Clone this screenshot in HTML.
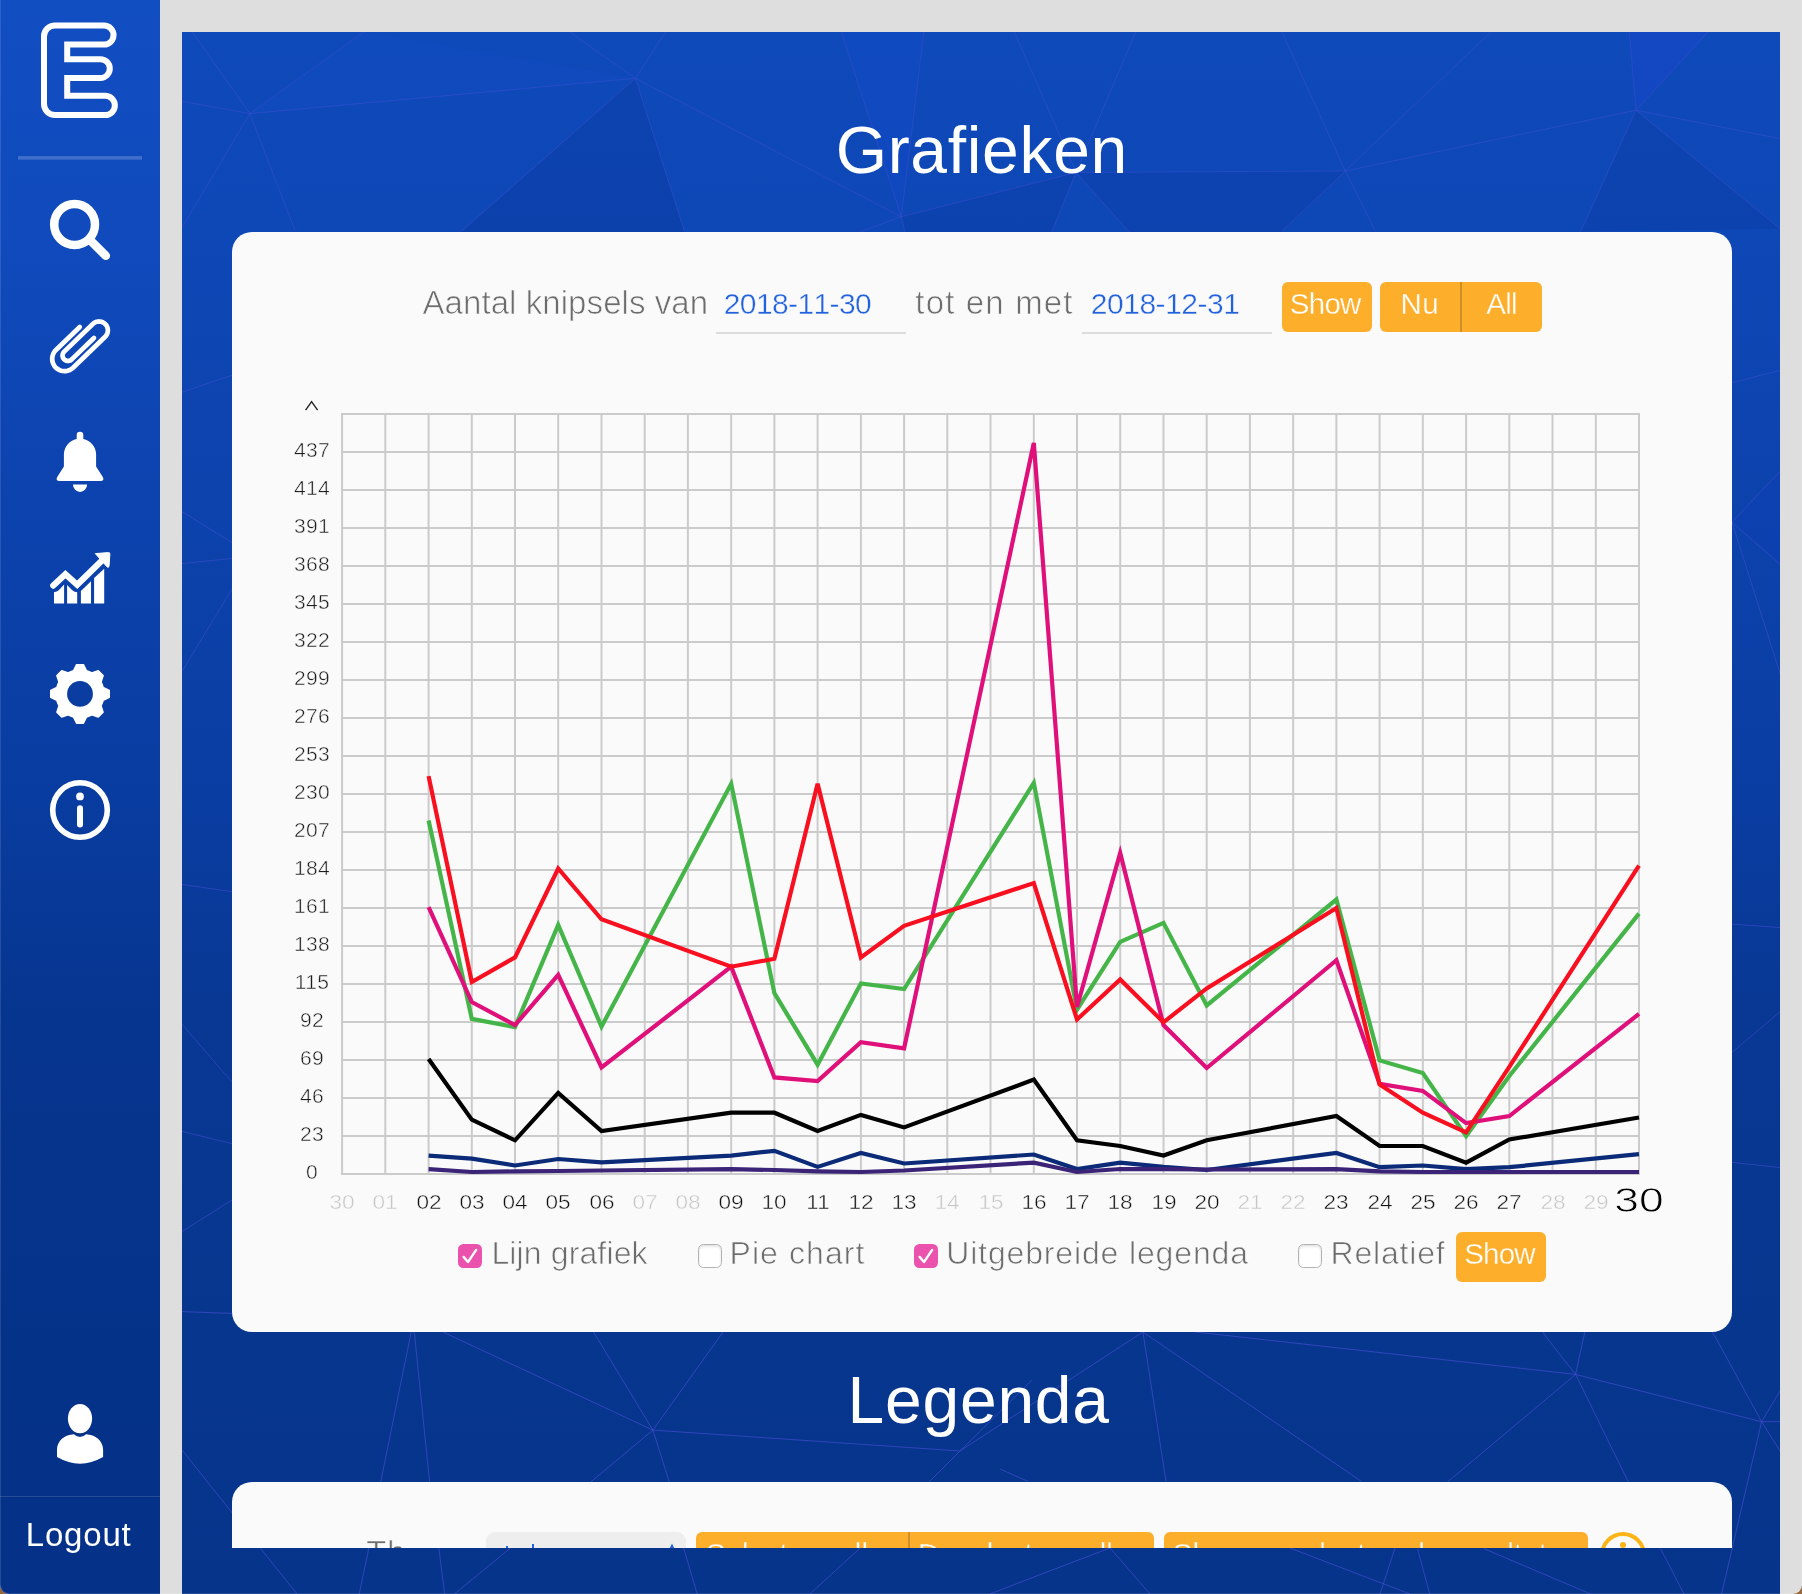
<!DOCTYPE html>
<html><head><meta charset="utf-8"><title>Grafieken</title>
<style>
html,body{margin:0;padding:0}
html{background:#96673a}
body{width:1802px;height:1594px;overflow:hidden;font-family:"Liberation Sans",sans-serif}
#win{position:absolute;left:0;top:0;width:1802px;height:1594px;overflow:hidden;background:#dedede;border-radius:0 0 9px 9px}
.abs{position:absolute}
.tl{position:absolute;left:0;top:0;width:1802px;height:1594px;will-change:transform;pointer-events:none}
.t{position:absolute;white-space:nowrap;line-height:1;font-kerning:none}
#side{position:absolute;left:0;top:0;width:160px;height:1594px;background:linear-gradient(180deg,#114ec2 0%,#104abc 15%,#0c42ad 33%,#093ca0 50%,#06358f 64%,#053289 84%,#053288 100%)}
#main{position:absolute;left:182px;top:32px;width:1598px;height:1562px;background:linear-gradient(180deg,#0f4aba 0%,#0e47b6 13%,#0c42ab 32%,#0a3da2 49%,#083894 62%,#07368e 84%,#06348b 100%);overflow:hidden}
.card{position:absolute;background:#fafafa;border-radius:20px}
.btn{position:absolute;background:#fdae2b;border-radius:6px}
.yl{position:absolute;left:272px;width:80px;text-align:center;font-size:19.5px;line-height:26px;color:#1c1c1c;transform:scaleX(1.08);letter-spacing:.2px;-webkit-text-stroke:.45px #fafafa}
.xl{position:absolute;top:1189px;width:80px;text-align:center;font-size:19.5px;line-height:26px;color:#111;transform:scaleX(1.16);-webkit-text-stroke:.45px #fafafa}
.xl.dim{color:#c6c6c6}
.xl.big{font-size:35px;top:1179.6px;line-height:40px;color:#000;transform:scaleX(1.27);-webkit-text-stroke:.8px #fafafa}
.cb{position:absolute;width:24px;height:24px;border-radius:5.5px;box-sizing:border-box}
.cb.on{background:#ea52ad}
.cb.off{background:#fff;border:1px solid #b2b2b2;box-shadow:inset 0 1.5px 2.5px rgba(0,0,0,.13)}
</style></head><body><div id="win">
<div id="main">
<svg class="abs" style="left:0;top:0" width="1598" height="1562" viewBox="182 32 1598 1562" fill="none" stroke="#4a4fd8" stroke-width="1">
<path d="M841.3 32.0 L923.8 32.0 L901.3 216.8Z" fill="rgba(30,80,255,.10)" stroke="none"/>
<path d="M635.4 78.3 L461.5 232.0 L684.4 232.0Z" fill="rgba(0,10,80,.09)" stroke="none"/>
<path d="M1629.3 32.0 L1707.9 32.0 L1636.0 110.2Z" fill="rgba(50,60,255,.12)" stroke="none"/>
<path d="M1076.0 172.5 L1345.3 171.0 L1281.9 232.0 L1129.0 232.0Z" fill="rgba(0,10,80,.07)" stroke="none"/>
<path d="M901.3 216.8 L1076.0 172.5 L1051.7 232.0 L905.0 232.0Z" fill="rgba(0,10,80,.08)" stroke="none"/>
<path d="M1636.0 110.2 L1780.0 228.8 L1580.9 231.2Z" fill="rgba(0,10,80,.08)" stroke="none"/>
<path d="M249.9 113.6 L363.8 32.0 L635.4 78.3Z" fill="rgba(40,90,255,.05)" stroke="none"/>
<path d="M1732.0 522.2 L1780.0 471.2 L1780.0 564.3Z" fill="rgba(40,40,255,.05)" stroke="none"/>
<path d="M249.9 113.6L192.3 32.0 M249.9 113.6L363.8 32.0 M249.9 113.6L635.4 78.3 M249.9 113.6L182.0 101.3 M249.9 113.6L182.0 227.5 M249.9 113.6L295.2 231.0 M635.4 78.3L569.5 32.0 M635.4 78.3L665.5 32.0 M635.4 78.3L901.3 216.8 M635.4 78.3L461.5 231.0 M635.4 78.3L684.4 231.0 M901.3 216.8L841.3 32.0 M901.3 216.8L923.8 32.0 M901.3 216.8L1076.0 172.5 M901.3 216.8L860.0 231.8 M901.3 216.8L905.0 231.8 M1076.0 172.5L1014.4 32.0 M1076.0 172.5L1135.6 32.0 M1076.0 172.5L1345.3 171.0 M1076.0 172.5L1051.7 231.8 M1076.0 172.5L1129.0 231.8 M1345.3 171.0L1281.9 32.0 M1345.3 171.0L1490.7 32.0 M1345.3 171.0L1636.0 110.2 M1345.3 171.0L1281.9 231.2 M1345.3 171.0L1375.4 231.2 M1636.0 110.2L1629.3 32.0 M1636.0 110.2L1707.9 32.0 M1636.0 110.2L1780.0 138.6 M1636.0 110.2L1780.0 228.8 M1636.0 110.2L1580.9 231.2" opacity="0.42"/>
<path d="M182.0 392.2L232.0 375.3 M182.0 511.6L232.0 542.6 M182.0 563.6L232.0 558.4 M182.0 671.5L232.0 589.0 M182.0 884.4L232.0 891.7 M182.0 1024.2L232.0 1082.2 M182.0 1131.4L232.0 1143.7 M182.0 1231.5L232.0 1199.9 M1732.0 382.7L1780.0 370.4 M1732.0 522.2L1780.0 471.2 M1732.0 522.2L1780.0 564.3 M1732.0 522.2L1780.0 673.3 M1732.0 924.1L1780.0 927.6 M1732.0 1052.3L1780.0 1011.9 M1732.0 1162.3L1780.0 1167.6" opacity="0.5"/>
<path d="M1575.6 1374.4L1195.4 1332.0 M1575.6 1374.4L1548.5 1340.0 M1575.6 1374.4L1583.0 1340.0 M1575.6 1374.4L1761.6 1421.7 M1575.6 1374.4L1447.5 1482.0 M1575.6 1374.4L1628.4 1482.0 M1761.6 1421.7L1717.0 1340.0 M1761.6 1421.7L1780.0 1391.0 M1761.6 1421.7L1780.0 1421.7 M1761.6 1421.7L1780.0 1451.0 M1761.6 1421.7L1721.6 1594.0 M1548.5 1340.0L1543.0 1332.0 M1583.0 1340.0L1585.0 1332.0 M1717.0 1340.0L1712.0 1332.0 M1142.9 1332.0L960.0 1451.0 M1142.9 1332.0L1166.0 1481.4 M1142.9 1332.0L1361.4 1481.4 M1000.0 1469.0L1028.0 1481.4 M1417.5 1548.7L1429.7 1594.0 M1484.0 1548.7L1590.7 1594.0 M1660.6 1548.7L1684.0 1594.0 M652.9 1430.1L443.0 1332.0 M652.9 1430.1L593.5 1332.0 M652.9 1430.1L723.0 1332.0 M652.9 1430.1L960.0 1451.0 M652.9 1430.1L590.7 1482.0 M652.9 1430.1L669.3 1482.0 M411.2 1332.0L380.7 1482.0 M414.3 1332.0L429.6 1482.0 M960.0 1451.0L1032.0 1380.0 M960.0 1451.0L929.0 1482.0 M368.9 1547.8L359.2 1594.0 M438.8 1547.8L444.7 1594.0 M510.7 1547.8L454.4 1594.0 M683.6 1547.8L697.2 1594.0 M860.4 1547.8L809.9 1594.0 M1032.0 1577.7L1110.0 1548.0 M1032.0 1577.7L990.0 1594.0 M1110.0 1548.0L1150.0 1594.0 M1395.0 1548.0L1380.0 1594.0 M1290.0 1548.0L1410.0 1594.0 M182.0 1450.0L297.0 1594.0 M182.0 1311.6L232.0 1313.4" opacity="0.62"/>
</svg>
</div>
<div id="side"></div>
<!-- sidebar icons -->
<svg class="abs" style="left:0;top:0" width="160" height="1594" viewBox="0 0 160 1594">
<path d="M55 25.5H104A9.55 9.55 0 0 1 104 44.6H67.2V59.2H100.4A9.4 9.4 0 0 1 100.4 78H67.2V95.8H105.2A9.65 9.65 0 0 1 105.2 115.1H55A11 11 0 0 1 44 104.1V36.5A11 11 0 0 1 55 25.5Z" fill="none" stroke="#fff" stroke-width="6" stroke-linejoin="miter"/>
<rect x="18" y="156.1" width="124" height="3.6" fill="#fff" opacity=".2"/>
<!-- search -->
<circle cx="74.6" cy="224.5" r="20.4" fill="none" stroke="#fff" stroke-width="8.5"/>
<path d="M89.5 239.5L105.8 255.8" stroke="#fff" stroke-width="8.6" stroke-linecap="round"/>
<!-- clip -->
<path d="M79.77 326.99 L55.96 349.98 L54.88 351.17 L53.96 352.50 L53.22 353.93 L52.68 355.45 L52.33 357.02 L52.20 358.63 L52.28 360.24 L52.57 361.83 L53.06 363.36 L53.74 364.82 L54.62 366.18 L55.66 367.41 L56.85 368.49 L58.18 369.41 L59.61 370.15 L61.13 370.69 L62.70 371.03 L64.31 371.17 L65.92 371.09 L67.51 370.80 L69.04 370.31 L70.50 369.62 L71.86 368.75 L73.09 367.71 L105.17 336.73 L105.95 335.87 L106.61 334.92 L107.14 333.88 L107.53 332.79 L107.78 331.66 L107.88 330.50 L107.82 329.34 L107.61 328.20 L107.26 327.09 L106.77 326.04 L106.14 325.07 L105.39 324.18 L104.53 323.40 L103.57 322.74 L102.54 322.21 L101.45 321.81 L100.31 321.57 L99.16 321.47 L98.00 321.53 L96.86 321.73 L95.75 322.09 L94.70 322.58 L93.72 323.21 L92.84 323.96 L64.21 351.61 L63.73 352.13 L63.33 352.72 L63.00 353.35 L62.76 354.01 L62.61 354.71 L62.55 355.42 L62.59 356.12 L62.71 356.82 L62.93 357.50 L63.23 358.14 L63.62 358.74 L64.07 359.28 L64.60 359.76 L65.18 360.16 L65.81 360.49 L66.48 360.73 L67.17 360.88 L67.88 360.93 L68.59 360.90 L69.29 360.77 L69.97 360.56 L70.61 360.26 L71.20 359.87 L71.75 359.41 L93.97 337.95" fill="none" stroke="#fff" stroke-width="4.7" stroke-linecap="round" stroke-linejoin="round"/>
<!-- bell -->
<path d="M76.7 438.9V435.1A3.3 3.3 0 0 1 83.3 435.1V438.9A16.1 16.1 0 0 1 96.1 454.6V466.4L102.8 476.9Q104.7 480.9 100.5 480.9H59.5Q55.3 480.9 57.2 476.9L63.9 466.4V454.6A16.1 16.1 0 0 1 76.7 438.9Z" fill="#fff"/>
<path d="M73 484.6H87.1A7.05 7.3 0 0 1 73 484.6Z" fill="#fff"/>
<!-- chart icon -->
<path d="M53.3 585.6L65.4 574.2L77.2 584.7L103 559.5" fill="none" stroke="#fff" stroke-width="6.2" stroke-linecap="round" stroke-linejoin="miter"/>
<path d="M95.3 553.6L108.6 552.6Q110 552.6 109.9 554L109 566.5Q108.3 568 107 566.8Z" fill="#fff" stroke="#fff" stroke-width="1" stroke-linejoin="round"/>
<path d="M54 592.3Q57 592 59 590L64.1 584.4V603.4H54Z M67.1 585L72 590Q74.5 592.2 77.2 592.2V603.4H67.1Z M80.9 591L91 581.3V603.4H80.9Z M94.1 577.9L104.2 568.7V603.4H94.1Z" fill="#fff"/>
<!-- gear -->
<path d="M70.82 671.73 L73.51 670.80 L76.62 664.69 L83.38 664.69 L86.49 670.80 L89.18 671.73 L91.75 672.97 L98.26 670.86 L103.04 675.64 L100.93 682.15 L102.17 684.72 L103.10 687.41 L109.21 690.52 L109.21 697.28 L103.10 700.39 L102.17 703.08 L100.93 705.65 L103.04 712.16 L98.26 716.94 L91.75 714.83 L89.18 716.07 L86.49 717.00 L83.38 723.11 L76.62 723.11 L73.51 717.00 L70.82 716.07 L68.25 714.83 L61.74 716.94 L56.96 712.16 L59.07 705.65 L57.83 703.08 L56.90 700.39 L50.79 697.28 L50.79 690.52 L56.90 687.41 L57.83 684.72 L59.07 682.15 L56.96 675.64 L61.74 670.86 L68.25 672.97Z" fill="#fff" stroke="#fff" stroke-width="1.6" stroke-linejoin="round"/>
<circle cx="80" cy="693.9" r="12.9" fill="#0a3d9f"/>
<!-- info -->
<circle cx="80" cy="810" r="27.3" fill="none" stroke="#fff" stroke-width="5.6"/>
<circle cx="80" cy="796.4" r="3.9" fill="#fff"/>
<path d="M80 808.2V824.4" stroke="#fff" stroke-width="6" stroke-linecap="round"/>
<!-- user -->
<ellipse cx="80" cy="1418.6" rx="12.1" ry="14.7" fill="#fff"/>
<path d="M57 1457.1V1449.5C57 1441 64.6 1434.6 73.9 1434.2Q80 1439.8 86.1 1434.2C95.4 1434.6 103.1 1441 103.1 1449.5V1457.1Q80 1470.3 57 1457.1Z" fill="#fff"/>
<rect x="0" y="1496" width="160" height="1" fill="#fff" opacity=".14"/>
</svg>
<!-- cards -->
<div class="card" style="left:232px;top:232px;width:1500px;height:1100px"></div>
<div class="card" style="left:232px;top:1482px;width:1500px;height:66px;border-radius:20px 20px 0 0"></div>
<div class="abs" style="left:232px;top:1482px;width:1500px;height:66px;overflow:hidden"><div class="abs" style="left:-232px;top:-1482px;width:1802px;height:1594px">
<div class="abs" style="left:486px;top:1532px;width:200px;height:40px;background:#eee;border-radius:9px"></div>
<div class="btn" style="left:696px;top:1532px;width:458px;height:50px"></div>
<div class="abs" style="left:908px;top:1532px;width:2px;height:50px;background:#cf8f27"></div>
<div class="btn" style="left:1164px;top:1532px;width:424px;height:50px"></div>
<div class="abs" style="left:1599.6px;top:1531.7px;width:46.6px;height:46.6px;box-sizing:border-box;border:4.2px solid #fdb414;border-radius:50%"></div>
<div class="abs" style="left:1619.9px;top:1542.4px;width:6px;height:6px;background:#fdb414;border-radius:50%"></div>
<div class="abs" style="left:506.3px;top:1545.6px;width:1.6px;height:10px;background:#2263dd"></div>
<div class="abs" style="left:532.3px;top:1543.8px;width:1.6px;height:10px;background:#2263dd"></div>
<svg class="abs" style="left:664px;top:1540px" width="16" height="12" viewBox="0 0 16 12"><path d="M8 3.6L12.2 12H3.8Z" fill="#2263dd"/></svg>
</div></div>
<div class="abs" style="left:232px;top:1482px;width:1500px;height:66px;overflow:hidden;will-change:transform"><div class="abs" style="left:-232px;top:-1482px;width:1802px;height:1594px">
<div class="t" style="left:366.26px;top:1536.47px;font-size:33px;letter-spacing:0.509px;color:#6c6c6c;-webkit-text-stroke:.7px #fafafa;">Th<span style="font-size:29px">ema</span></div>
<div class="t" style="left:705.96px;top:1539.33px;font-size:29.5px;letter-spacing:-0.028px;color:#fff;-webkit-text-stroke:.3px #fdae2b;">Selecteer alles</div>
<div class="t" style="left:917.98px;top:1539.33px;font-size:29.5px;letter-spacing:-0.012px;color:#fff;-webkit-text-stroke:.3px #fdae2b;">Deselecteer alles</div>
<div class="t" style="left:1172.66px;top:1539.33px;font-size:29.5px;letter-spacing:0.078px;color:#fff;-webkit-text-stroke:.3px #fdae2b;">Show geselecteerde resultaten</div>
</div></div>
<!-- form underlines -->
<div class="abs" style="left:716px;top:332px;width:190px;height:2px;background:#dcdcdc"></div>
<div class="abs" style="left:1082px;top:332px;width:190px;height:2px;background:#dcdcdc"></div>
<div class="btn" style="left:1282px;top:282px;width:90px;height:50px"></div>
<div class="btn" style="left:1380px;top:282px;width:162px;height:50px"></div>
<div class="abs" style="left:1460px;top:282px;width:2px;height:50px;background:#cf8f27"></div>
<div class="btn" style="left:1456px;top:1232px;width:90px;height:50px"></div>
<svg class="abs" style="left:0;top:0" width="1802" height="1594" viewBox="0 0 1802 1594">
<path d="M342.1 413V1175 M385.3 413V1175 M428.6 413V1175 M471.8 413V1175 M515.0 413V1175 M558.2 413V1175 M601.5 413V1175 M644.7 413V1175 M687.9 413V1175 M731.2 413V1175 M774.4 413V1175 M817.6 413V1175 M860.9 413V1175 M904.1 413V1175 M947.3 413V1175 M990.5 413V1175 M1033.8 413V1175 M1077.0 413V1175 M1120.2 413V1175 M1163.5 413V1175 M1206.7 413V1175 M1249.9 413V1175 M1293.2 413V1175 M1336.4 413V1175 M1379.6 413V1175 M1422.8 413V1175 M1466.1 413V1175 M1509.3 413V1175 M1552.5 413V1175 M1595.8 413V1175 M1639.0 413V1175 M341 414H1639 M341 452H1639 M341 490H1639 M341 528H1639 M341 566H1639 M341 604H1639 M341 642H1639 M341 680H1639 M341 718H1639 M341 756H1639 M341 794H1639 M341 832H1639 M341 870H1639 M341 908H1639 M341 946H1639 M341 984H1639 M341 1022H1639 M341 1060H1639 M341 1098H1639 M341 1136H1639 M341 1174H1639" stroke="#cbcbcb" stroke-width="2" fill="none"/>
<path d="M428.6 1155.6 L471.8 1158.7 L515.0 1165.5 L558.2 1159.0 L601.5 1162.4 L731.2 1155.6 L774.4 1150.8 L817.6 1166.9 L860.9 1153.0 L904.1 1163.5 L1033.8 1154.5 L1077.0 1169.1 L1120.2 1162.6 L1163.5 1166.9 L1206.7 1170.0 L1336.4 1153.0 L1379.6 1167.2 L1422.8 1165.5 L1466.1 1169.1 L1509.3 1167.2 L1639.0 1154.2" stroke="#0b2a78" stroke-width="4.2" fill="none" stroke-linejoin="miter"/>
<path d="M428.6 1169.1 L471.8 1172.0 L515.0 1171.4 L558.2 1171.0 L601.5 1170.5 L731.2 1169.2 L774.4 1170.0 L817.6 1171.4 L860.9 1172.0 L904.1 1170.5 L1033.8 1162.6 L1077.0 1172.0 L1120.2 1169.0 L1163.5 1169.2 L1206.7 1169.5 L1336.4 1169.1 L1379.6 1171.4 L1422.8 1172.0 L1466.1 1172.0 L1509.3 1172.0 L1639.0 1172.0" stroke="#3b2378" stroke-width="4.2" fill="none" stroke-linejoin="miter"/>
<path d="M428.6 1059.0 L471.8 1119.7 L515.0 1140.3 L558.2 1092.9 L601.5 1131.0 L731.2 1112.7 L774.4 1112.7 L817.6 1131.0 L860.9 1114.9 L904.1 1127.4 L1033.8 1079.6 L1077.0 1140.3 L1120.2 1146.0 L1163.5 1155.6 L1206.7 1140.3 L1336.4 1116.0 L1379.6 1146.0 L1422.8 1146.0 L1466.1 1162.6 L1509.3 1139.5 L1639.0 1117.5" stroke="#000000" stroke-width="4.2" fill="none" stroke-linejoin="miter"/>
<path d="M428.6 820.5 L471.8 1018.9 L515.0 1027.1 L558.2 924.9 L601.5 1026.6 L731.2 783.8 L774.4 993.2 L817.6 1064.7 L860.9 983.4 L904.1 989.0 L1033.8 782.9 L1077.0 1009.6 L1120.2 941.9 L1163.5 922.9 L1206.7 1005.4 L1336.4 899.5 L1379.6 1060.4 L1422.8 1073.1 L1466.1 1136.1 L1509.3 1076.0 L1639.0 913.6" stroke="#45b549" stroke-width="4.2" fill="none" stroke-linejoin="miter"/>
<path d="M428.6 907.1 L471.8 1002.0 L515.0 1025.1 L558.2 974.9 L601.5 1067.5 L731.2 966.7 L774.4 1077.4 L817.6 1081.0 L860.9 1042.1 L904.1 1048.3 L1033.8 443.0 L1077.0 1007.0 L1120.2 852.9 L1163.5 1025.1 L1206.7 1068.0 L1336.4 960.2 L1379.6 1083.9 L1422.8 1090.9 L1466.1 1123.1 L1509.3 1116.1 L1639.0 1013.9" stroke="#e0107a" stroke-width="4.2" fill="none" stroke-linejoin="miter"/>
<path d="M428.6 776.1 L471.8 982.0 L515.0 957.4 L558.2 868.5 L601.5 919.3 L731.2 966.7 L774.4 958.8 L817.6 783.8 L860.9 957.4 L904.1 925.8 L1033.8 883.1 L1077.0 1019.5 L1120.2 979.4 L1163.5 1022.3 L1206.7 988.4 L1336.4 908.0 L1379.6 1084.4 L1422.8 1112.7 L1466.1 1132.4 L1509.3 1066.9 L1639.0 865.6" stroke="#f80f20" stroke-width="4.2" fill="none" stroke-linejoin="miter"/>
</svg>
<svg class="abs" style="left:300px;top:396px" width="24" height="18" viewBox="300 396 24 18"><path d="M305.6 410.2L311.6 401.6L317.6 410.2" fill="none" stroke="#222" stroke-width="1.4"/></svg>
<div class="tl">
<div class="yl" style="top:437px">437</div>
<div class="yl" style="top:475px">414</div>
<div class="yl" style="top:513px">391</div>
<div class="yl" style="top:551px">368</div>
<div class="yl" style="top:589px">345</div>
<div class="yl" style="top:627px">322</div>
<div class="yl" style="top:665px">299</div>
<div class="yl" style="top:703px">276</div>
<div class="yl" style="top:741px">253</div>
<div class="yl" style="top:779px">230</div>
<div class="yl" style="top:817px">207</div>
<div class="yl" style="top:855px">184</div>
<div class="yl" style="top:893px">161</div>
<div class="yl" style="top:931px">138</div>
<div class="yl" style="top:969px">115</div>
<div class="yl" style="top:1007px">92</div>
<div class="yl" style="top:1045px">69</div>
<div class="yl" style="top:1083px">46</div>
<div class="yl" style="top:1121px">23</div>
<div class="yl" style="top:1159px">0</div>
<div class="xl dim" style="left:302.1px">30</div>
<div class="xl dim" style="left:345.3px">01</div>
<div class="xl" style="left:388.6px">02</div>
<div class="xl" style="left:431.8px">03</div>
<div class="xl" style="left:475.0px">04</div>
<div class="xl" style="left:518.2px">05</div>
<div class="xl" style="left:561.5px">06</div>
<div class="xl dim" style="left:604.7px">07</div>
<div class="xl dim" style="left:647.9px">08</div>
<div class="xl" style="left:691.2px">09</div>
<div class="xl" style="left:734.4px">10</div>
<div class="xl" style="left:777.6px">11</div>
<div class="xl" style="left:820.9px">12</div>
<div class="xl" style="left:864.1px">13</div>
<div class="xl dim" style="left:907.3px">14</div>
<div class="xl dim" style="left:950.5px">15</div>
<div class="xl" style="left:993.8px">16</div>
<div class="xl" style="left:1037.0px">17</div>
<div class="xl" style="left:1080.2px">18</div>
<div class="xl" style="left:1123.5px">19</div>
<div class="xl" style="left:1166.7px">20</div>
<div class="xl dim" style="left:1209.9px">21</div>
<div class="xl dim" style="left:1253.2px">22</div>
<div class="xl" style="left:1296.4px">23</div>
<div class="xl" style="left:1339.6px">24</div>
<div class="xl" style="left:1382.8px">25</div>
<div class="xl" style="left:1426.1px">26</div>
<div class="xl" style="left:1469.3px">27</div>
<div class="xl dim" style="left:1512.5px">28</div>
<div class="xl dim" style="left:1555.8px">29</div>
<div class="xl big" style="left:1599.0px">30</div>
</div>
<!-- checkboxes -->
<div class="cb on" style="left:458px;top:1244px"></div>
<div class="cb off" style="left:698px;top:1244px"></div>
<div class="cb on" style="left:914px;top:1244px"></div>
<div class="cb off" style="left:1298px;top:1244px"></div>
<svg class="abs" style="left:458px;top:1244px" width="500" height="24" viewBox="0 0 500 24"><path d="M5.6 12.9L10 18L18.2 5.9 M461.6 12.9L466 18L474.2 5.9" fill="none" stroke="#fff" stroke-width="2.4" stroke-linecap="round" stroke-linejoin="round"/></svg>
<div class="tl">
<div class="t" style="left:835.68px;top:116.73px;font-size:66px;letter-spacing:0.683px;color:#fff;">Grafieken</div>
<div class="t" style="left:847.59px;top:1367.13px;font-size:66px;letter-spacing:0.745px;color:#fff;">Legenda</div>
<div class="t" style="left:25.79px;top:1518.47px;font-size:33px;letter-spacing:0.803px;color:#fff;">Logout</div>
<div class="t" style="left:422.44px;top:286.37px;font-size:33px;letter-spacing:0.076px;color:#6c6c6c;-webkit-text-stroke:.7px #fafafa;">Aantal knipsels van</div>
<div class="t" style="left:723.79px;top:288.91px;font-size:30px;letter-spacing:-0.620px;color:#2263dd;-webkit-text-stroke:.4px #fafafa;">2018-11-30</div>
<div class="t" style="left:915.30px;top:286.37px;font-size:33px;letter-spacing:1.166px;color:#6c6c6c;-webkit-text-stroke:.7px #fafafa;">tot en met</div>
<div class="t" style="left:1090.79px;top:288.91px;font-size:30px;letter-spacing:-0.476px;color:#2263dd;-webkit-text-stroke:.4px #fafafa;">2018-12-31</div>
<div class="t" style="left:1289.66px;top:289.33px;font-size:29.5px;letter-spacing:-0.675px;color:#fff;-webkit-text-stroke:.3px #fdae2b;">Show</div>
<div class="t" style="left:1400.38px;top:289.33px;font-size:29.5px;letter-spacing:0.668px;color:#fff;-webkit-text-stroke:.3px #fdae2b;">Nu</div>
<div class="t" style="left:1486.14px;top:289.33px;font-size:29.5px;letter-spacing:-0.627px;color:#fff;-webkit-text-stroke:.3px #fdae2b;">All</div>
<div class="t" style="left:491.38px;top:1237.11px;font-size:32px;letter-spacing:0.130px;color:#6c6c6c;-webkit-text-stroke:.7px #fafafa;">Lijn grafiek</div>
<div class="t" style="left:729.48px;top:1237.11px;font-size:32px;letter-spacing:1.085px;color:#6c6c6c;-webkit-text-stroke:.7px #fafafa;">Pie chart</div>
<div class="t" style="left:946.23px;top:1237.11px;font-size:32px;letter-spacing:0.852px;color:#6c6c6c;-webkit-text-stroke:.7px #fafafa;">Uitgebreide legenda</div>
<div class="t" style="left:1330.58px;top:1237.11px;font-size:32px;letter-spacing:0.797px;color:#6c6c6c;-webkit-text-stroke:.7px #fafafa;">Relatief</div>
<div class="t" style="left:1464.16px;top:1238.83px;font-size:29.5px;letter-spacing:-0.775px;color:#fff;-webkit-text-stroke:.3px #fdae2b;">Show</div>
</div>
<div class="abs" style="left:0;top:0;width:1802px;height:1594px;box-sizing:border-box;border:1px solid rgba(255,255,255,.12);border-top:none;border-radius:0 0 9px 9px;pointer-events:none"></div>
</div></body></html>
